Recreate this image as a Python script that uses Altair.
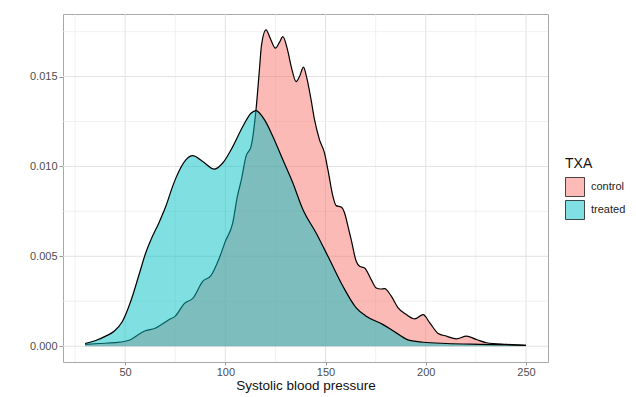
import altair as alt
import pandas as pd

# ---- data ----
groups = ["control", "treated"]
group_colors = ["#F8766D", "#00BFC4"]
legend_colors = ["#FCBBB6", "#80DFE2"]  # the same colours at 50 % over white

control_bp = [30, 37, 45, 52, 56, 59.5, 65, 72, 75, 79.5, 84, 88.7, 92.8, 97, 100, 103.7,
              106, 108, 110.3, 112.8, 115.3, 117, 118, 120.3, 122.5, 125, 127, 128.7, 131,
              133, 135.3, 137, 139, 140.5, 142.8, 144.5, 147, 149.5, 151.2, 153.7, 155.3,
              157.8, 159.5, 161.2, 162.8, 165.3, 167, 169.5, 172.8, 175.3, 177.5, 179.5,
              182.8, 186.2, 190.3, 194.5, 198.7, 202, 206.2, 210.3, 215.3, 220.3, 225.3,
              230.3, 240.3, 250]
control_density = [0.0001, 0.00015, 0.0002, 0.00033, 0.0006, 0.00083, 0.001, 0.00148,
                   0.00167, 0.00237, 0.00269, 0.00361, 0.00393, 0.00491, 0.00583, 0.00686,
                   0.00833, 0.00926, 0.01056, 0.0111, 0.01315, 0.01537, 0.0167, 0.0176,
                   0.0171, 0.01658, 0.0169, 0.01722, 0.0165, 0.0155, 0.01472, 0.0150,
                   0.01552, 0.0150, 0.0137, 0.0126, 0.01148, 0.01074, 0.00981, 0.00833,
                   0.00782, 0.00774, 0.00741, 0.00667, 0.00593, 0.00472, 0.00445, 0.00435,
                   0.0037, 0.00324, 0.00318, 0.0032, 0.00278, 0.00213, 0.00176, 0.00152,
                   0.00176, 0.0013, 0.00071, 0.00056, 0.00041, 0.00056, 0.00037, 0.00019,
                   0.0001, 0.00005]

treated_bp = [30, 35, 40.3, 44.5, 48.7, 52.8, 57, 60.3, 62.8, 67, 70.3, 73.7, 75.3, 80.3,
              83.7, 88.7, 94.5, 98.7, 103.7, 108.7, 112.8, 115.3, 119.5, 123.7, 128.7,
              133.7, 138.7, 145.3, 152, 158.7, 165.3, 170.3, 178.7, 185.3, 192, 198.7,
              210.3, 227, 250]
treated_density = [0.00015, 0.0003, 0.00056, 0.00083, 0.00139, 0.0025, 0.0040, 0.0052,
                   0.0059, 0.0069, 0.00778, 0.00889, 0.00935, 0.01037, 0.0106, 0.01028,
                   0.00985, 0.01019, 0.0111, 0.01222, 0.01296, 0.01311, 0.0126, 0.01167,
                   0.01037, 0.00908, 0.0076, 0.0063, 0.00482, 0.00333, 0.00213, 0.00167,
                   0.0012, 0.00074, 0.00032, 0.00022, 0.00015, 0.0001, 0.00005]

x_major = [50, 100, 150, 200, 250]
x_minor = [25, 75, 125, 175, 225]
y_major = [0.0, 0.005, 0.010, 0.015]
y_minor = [0.0025, 0.0075, 0.0125, 0.0175]

df = pd.concat([
    pd.DataFrame({"bp": control_bp, "density": control_density, "TXA": "control"}),
    pd.DataFrame({"bp": treated_bp, "density": treated_density, "TXA": "treated"}),
], ignore_index=True)

FONT = "Liberation Sans"
xscale = alt.Scale(domain=[19, 261], nice=False, zero=False)
yscale = alt.Scale(domain=[-0.00088, 0.01848], nice=False, zero=False)

xaxis = alt.Axis(values=x_major, title="Systolic blood pressure", grid=False, domain=False,
                 tickSize=3, tickColor="#9a9a9a", labelColor="#4d4d4d", labelFontSize=11,
                 labelFont=FONT, titleFont=FONT, titleFontSize=13.5, titleFontWeight="normal",
                 titleColor="#111111", labelPadding=1, titlePadding=1)
yaxis = alt.Axis(values=y_major, format=".3f", title=None, grid=False, domain=False,
                 tickSize=4, tickColor="#9a9a9a", labelColor="#4d4d4d", labelFontSize=11,
                 labelFont=FONT, labelPadding=2)

legend_color = alt.Color("TXA:N", scale=alt.Scale(domain=groups, range=legend_colors),
                         legend=alt.Legend(title="TXA", orient="none", legendX=502, legendY=143,
                                           symbolType="square", symbolSize=361,
                                           symbolStrokeColor="black", symbolStrokeWidth=0.7,
                                           labelFont=FONT, titleFont=FONT, labelFontSize=11,
                                           titleFontSize=14, titleFontWeight="normal",
                                           titleColor="#111111", labelColor="#222222",
                                           rowPadding=1, titlePadding=6, labelOffset=6))

grid_x_minor = alt.Chart(pd.DataFrame({"bp": x_minor})).mark_rule(
    color="#ebebeb", strokeWidth=0.7).encode(x=alt.X("bp:Q", scale=xscale, axis=xaxis))
grid_x_major = alt.Chart(pd.DataFrame({"bp": x_major})).mark_rule(
    color="#e2e2e2", strokeWidth=1).encode(x=alt.X("bp:Q", scale=xscale, axis=xaxis))
grid_y_minor = alt.Chart(pd.DataFrame({"density": y_minor})).mark_rule(
    color="#ebebeb", strokeWidth=0.7).encode(y=alt.Y("density:Q", scale=yscale, axis=yaxis))
grid_y_major = alt.Chart(pd.DataFrame({"density": y_major})).mark_rule(
    color="#e2e2e2", strokeWidth=1).encode(y=alt.Y("density:Q", scale=yscale, axis=yaxis))

layers = [grid_x_minor, grid_x_major, grid_y_minor, grid_y_major]
for g, col in zip(groups, group_colors):
    base = alt.Chart(df).transform_filter(alt.datum.TXA == g)
    area = base.mark_area(color=col, opacity=0.5, interpolate="monotone").encode(
        x=alt.X("bp:Q", scale=xscale, axis=xaxis),
        y=alt.Y("density:Q", scale=yscale, axis=yaxis),
    )
    line = base.mark_line(color="black", strokeWidth=1.2, interpolate="monotone").encode(
        x=alt.X("bp:Q", scale=xscale, axis=xaxis),
        y=alt.Y("density:Q", scale=yscale, axis=yaxis),
    )
    layers += [area, line]

# legend-only layer (zero-size points, invisible): square keys with a black outline
legend_layer = alt.Chart(df).mark_point(
    shape="square", filled=True, size=0, stroke="black", strokeWidth=0.7, opacity=1).encode(
    x=alt.X("bp:Q", scale=xscale, axis=xaxis),
    y=alt.Y("density:Q", scale=yscale, axis=yaxis),
    color=legend_color,
)
layers.append(legend_layer)

chart = alt.layer(*layers).properties(
    width=485, height=348,
    autosize=alt.AutoSizeParams(type="none"),
    padding={"left": 63, "top": 14, "right": 88, "bottom": 35},
    background="white",
).configure_view(stroke="#a8a8a8", strokeWidth=1)

chart.save("out.html", embed_options={"renderer": "svg", "actions": False})
